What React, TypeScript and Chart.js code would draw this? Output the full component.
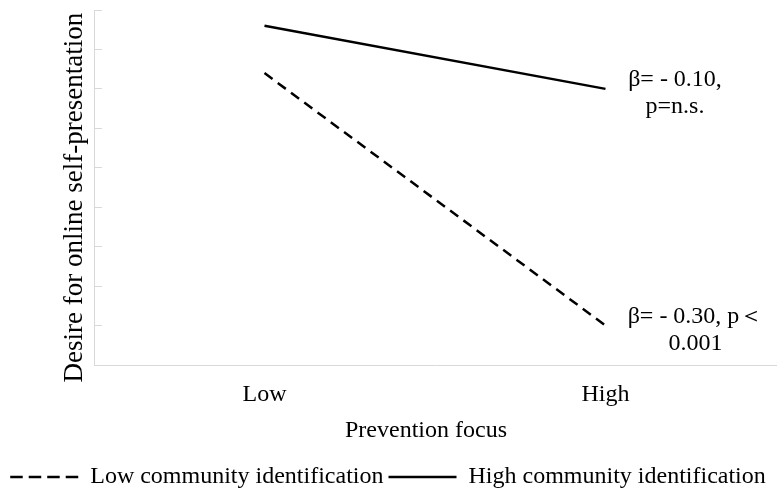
import React, { useEffect, useRef } from "react";
import { Chart, registerables } from "chart.js";

Chart.register(...registerables);

// ---- data ----
const categories = ["Low", "High"];
const lowIdentValues = [7.4, 1.0];
const highIdentValues = [8.6, 7.0];
const seriesNames = ["Low community identification", "High community identification"];
const highIdentNote = ["β= - 0.10,", "p=n.s."];
const lowIdentNote = ["β= - 0.30, p＜", "0.001"];
const yTitle = "Desire for online self-presentation";
const xTitle = "Prevention focus";
const yMin = 0;
const yMax = 9;
const yStep = 1;

const FONT = "'Liberation Serif', 'Times New Roman', serif";
const AXIS_GRAY = "#d9d9d9";

const notePlugin = {
  id: "notes",
  afterDatasetsDraw(chart: any) {
    const ctx = chart.ctx;
    const notes = [
      { ds: 1, lines: highIdentNote, dx: 69.5, dy: -9 },
      { ds: 0, lines: lowIdentNote, dx: 90, dy: -9 },
    ];
    ctx.save();
    ctx.font = `24px ${FONT}`;
    ctx.fillStyle = "#000";
    ctx.textAlign = "center";
    ctx.textBaseline = "middle";
    notes.forEach((n) => {
      const meta = chart.getDatasetMeta(n.ds);
      const pt = meta.data[1];
      n.lines.forEach((t: string, i: number) => {
        ctx.fillText(t, pt.x + n.dx, pt.y + n.dy + i * 27);
      });
    });
    ctx.restore();
  },
};

export default function App() {
  const ref = useRef<HTMLCanvasElement | null>(null);

  useEffect(() => {
    document.body.style.margin = "0";
    document.body.style.overflow = "hidden";
    const canvas = ref.current;
    if (!canvas) return;
    const chart = new Chart(canvas, {
      type: "line",
      data: {
        labels: categories,
        datasets: [
          {
            label: seriesNames[0],
            data: lowIdentValues,
            borderColor: "#000",
            backgroundColor: "#000",
            borderWidth: 2.5,
            borderDash: [10, 6.5],
            pointRadius: 0,
            tension: 0,
          },
          {
            label: seriesNames[1],
            data: highIdentValues,
            borderColor: "#000",
            backgroundColor: "#000",
            borderWidth: 2.5,
            pointRadius: 0,
            tension: 0,
          },
        ],
      },
      options: {
        responsive: false,
        animation: false,
        devicePixelRatio: 1,
        layout: { padding: { top: 10, left: 0, right: 1, bottom: -6 } },
        plugins: {
          tooltip: { enabled: false },
          legend: {
            display: true,
            position: "bottom",
            labels: {
              usePointStyle: true,
              pointStyleWidth: 68,
              padding: 5,
              color: "#000",
              font: { family: FONT, size: 24 },
              generateLabels: (c: any) =>
                c.data.datasets.map((ds: any, i: number) => ({
                  text: ds.label,
                  fillStyle: "rgba(0,0,0,0)",
                  strokeStyle: "#000",
                  lineWidth: 2.5,
                  lineDash: i === 0 ? [12.5, 6] : [],
                  pointStyle: "line",
                  hidden: false,
                  datasetIndex: i,
                  fontColor: "#000",
                })),
            },
          },
        },
        scales: {
          x: {
            type: "category",
            offset: true,
            grid: { display: false, drawTicks: false },
            border: { display: true, color: AXIS_GRAY, width: 1 },
            ticks: {
              padding: 15,
              color: "#000",
              maxRotation: 0,
              font: { family: FONT, size: 24 },
            },
            title: {
              display: true,
              text: xTitle + "   ",
              color: "#000",
              font: { family: FONT, size: 24 },
              padding: { top: 0, bottom: 14.6 },
            },
            afterFit: (s: any) => {
              s.height = 95;
            },
          },
          y: {
            min: yMin,
            max: yMax,
            ticks: { display: false, stepSize: yStep },
            grid: {
              display: true,
              drawOnChartArea: false,
              drawTicks: true,
              tickLength: -8,
              color: AXIS_GRAY,
              lineWidth: 1,
            },
            border: { display: true, color: AXIS_GRAY, width: 1 },
            title: {
              display: true,
              text: yTitle + "   ",
              color: "#000",
              font: { family: FONT, size: 27 },
              padding: { top: 58.8, bottom: 0 },
            },
            afterFit: (s: any) => {
              s.width = 94;
            },
          },
        },
      },
      plugins: [notePlugin],
    } as any);
    return () => chart.destroy();
  }, []);

  return (
    <div style={{ width: 777, height: 493 }}>
      <canvas ref={ref} width={777} height={493} />
    </div>
  );
}
